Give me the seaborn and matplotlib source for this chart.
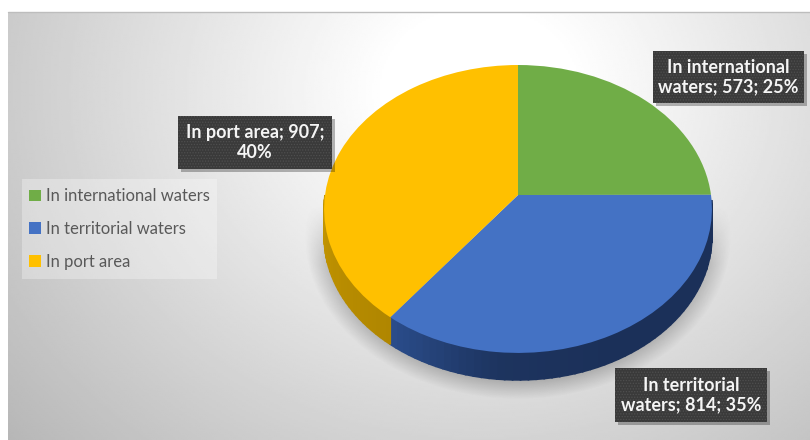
import numpy as np
import matplotlib
matplotlib.use("Agg")
import matplotlib.pyplot as plt
import matplotlib.transforms as mtransforms
from matplotlib.patches import Rectangle
import seaborn as sns

categories = ["In international waters", "In territorial waters", "In port area"]
values = [573, 814, 907]
label_texts = ["In international\nwaters; 573; 25%", "In territorial\nwaters; 814; 35%", "In port area; 907;\n40%"]
pie_colors = ["#70AD47", "#4472C4", "#FFC000"]

CX, CY = 518, 195     # pie apex in pixels
RX, RY = 193, 142.6   # projected radii
TILT = 0.097          # perspective, near edge looks bigger
DEPTH = 27


def project(u, v):
    w = 1 + TILT * v
    return CX + RX * u / w, CY - RY * v / w


class PerspectiveTransform(mtransforms.Transform):
    input_dims = 2
    output_dims = 2
    is_separable = False
    has_inverse = False

    def transform_non_affine(self, values):
        xs, ys = project(values[:, 0], values[:, 1])
        return np.column_stack([xs, ys])


sns.set_theme(style="white")
plt.rcParams["font.family"] = ["Lato", "DejaVu Sans"]
plt.rcParams["hatch.linewidth"] = 0.6
plt.rcParams["hatch.color"] = "#4f4f4f"

fig = plt.figure(figsize=(8.1, 4.4), dpi=100, facecolor="white")
ax = fig.add_axes([0, 0, 1, 1])

wedges, _ = ax.pie(values, colors=pie_colors, startangle=90, counterclock=False,
                   wedgeprops={"linewidth": 0})
persp = PerspectiveTransform() + ax.transData
for w in wedges:
    w.set_transform(persp)
    w.set_zorder(5)
    w.set_clip_on(False)

ax.set_aspect("auto")
ax.set_frame_on(False)

# background glow of the chart area
gx, gy = np.meshgrid(np.linspace(8, 810, 400), np.linspace(12, 440, 220))
dist = np.sqrt(((gx - 480) / 470) ** 2 + ((gy - 90) / 400) ** 2)
shade = np.clip(1.02 - 0.25 * np.clip(dist - 0.12, 0, None) ** 1.0, 0, 1)
ax.imshow(shade, extent=(8, 810, 440, 12), cmap="gray", vmin=0, vmax=1,
          aspect="auto", zorder=0, interpolation="bilinear")
ax.plot([8, 810], [12, 12], color="#bdbdbd", lw=1, zorder=1)

# soft shadow under the pie, fading out towards its upper half
sx, sy = np.meshgrid(np.linspace(290, 760, 470), np.linspace(190, 420, 230))
edist = np.sqrt(((sx - 518) / 196) ** 2 + ((sy - 236) / 150) ** 2)
alpha = np.clip((1.09 - edist) / 0.12, 0, 1) * 0.36 * np.clip((sy - 205) / 60, 0, 1)
shadow = np.zeros(sx.shape + (4,))
shadow[..., :3] = 0.35
shadow[..., 3] = alpha
ax.imshow(shadow, extent=(290, 760, 420, 190), aspect="auto", zorder=2)
ax.set_xlim(0, 810)
ax.set_ylim(440, 0)

# side wall of the disc, lighter next to the slice boundary
split = 90 - (values[0] + values[1]) / sum(values) * 360
blue_side = np.radians(np.linspace(-2, split, 60))
yellow_side = np.radians(np.linspace(split, -180, 30))
blues = sns.blend_palette(["#1B3059", "#1B3059", "#1B3059", "#1D345F", "#2A4C8A"], 59)
yellows = sns.blend_palette(["#B08600", "#C39500"], 29)
for angles, cols in [(blue_side, blues), (yellow_side, yellows)]:
    for i, col in enumerate(cols):
        t = angles[i:i + 2]
        x, y = project(np.cos(t), np.sin(t))
        ax.fill(np.r_[x, x[::-1]], np.r_[y, y[::-1] + DEPTH], color=col, lw=1.2, zorder=4)

# data labels
boxes = [(653, 51, 151, 52), (615, 368, 152, 54), (178, 116, 154, 53)]
for (bx, by, bw, bh), txt in zip(boxes, label_texts):
    ax.add_patch(Rectangle((bx + 3, by + 3), bw, bh, fc="#000000", alpha=0.28, lw=0, zorder=6))
    ax.add_patch(Rectangle((bx, by), bw, bh, fc="#3A3A3A", ec="#4f4f4f", hatch="......", lw=0, zorder=7))
    ax.text(bx + bw / 2, by + bh / 2, txt, color="#F5F5F5", fontsize=13, fontweight="bold",
            ha="center", va="center", linespacing=1.17, zorder=8)

# legend
ax.add_patch(Rectangle((22, 179), 195, 100, fc="white", alpha=0.3, lw=0, zorder=3))
leg = ax.legend(wedges, categories, loc="upper left", bbox_to_anchor=(26 / 810, 1 - 185 / 440),
                frameon=False, fontsize=12, labelcolor="#595959", handlelength=0.72, handleheight=0.72,
                handletextpad=0.25, labelspacing=1.0, borderpad=0.2, borderaxespad=0)
leg.set_zorder(9)

fig.savefig("out.png", dpi=100)
